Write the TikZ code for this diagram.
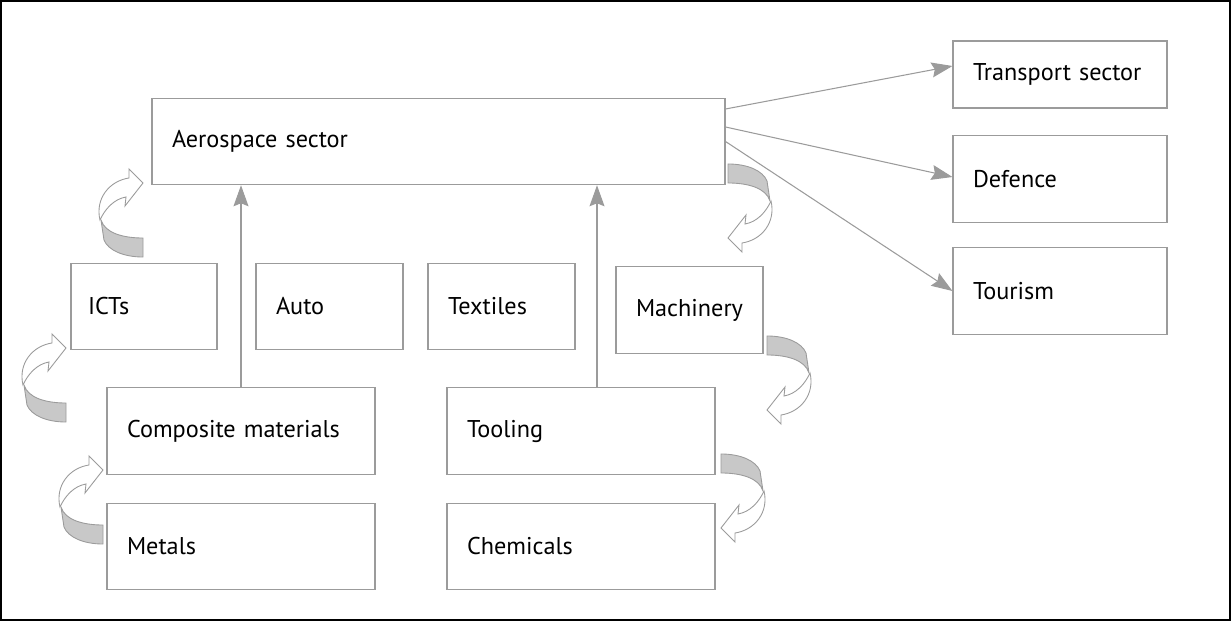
\documentclass[tikz,border=0pt]{standalone}
\usepackage{fontspec}
\setmainfont{PT Sans}
\usetikzlibrary{arrows.meta}

\definecolor{linegray}{RGB}{155,155,155}
\definecolor{bandgray}{RGB}{200,200,200}

\tikzset{
  curl/.pic={
    \begin{scope}[x=0.02cm, y=0.02cm]
      \filldraw[fill=bandgray, draw=linegray, line width=0.5pt]
        (-42,-37) .. controls (-38,-50) and (-20,-55) .. (0,-55) -- (0,-74)
        .. controls (-20,-74) and (-35,-67) .. (-39,-57) -- cycle;
      \filldraw[fill=white, draw=linegray, line width=0.5pt]
        (0,0) -- (-14,14) -- (-14,5) .. controls (-34,2) and (-48,-16) .. (-43,-37)
        .. controls (-38,-26) and (-29,-16) .. (-17,-14) -- (-18,-23) -- cycle;
    \end{scope}
  }
}

\begin{document}
\begin{tikzpicture}
  \tikzstyle{box}=[draw=linegray, line width=0.6pt, inner xsep=0.4cm, align=left, minimum height=1.73cm, font=\fontsize{13.8}{16}\selectfont]
  \tikzstyle{conn}=[draw=linegray, line width=0.6pt, -{Stealth[length=0.42cm, width=0.3cm, inset=0.06cm]}]

  \useasboundingbox (0,0) rectangle (24.62,-12.42);
  \draw[black, line width=0.04cm] (0.02,-0.02) rectangle (24.6,-12.4);

  % sectors
  \node[box, text width=10.66cm] (aero) at (8.77,-2.83) {Aerospace sector};
  \node[box, text width=3.48cm, minimum height=1.34cm] (transport) at (21.2,-1.49) {Transport sector};
  \node[box, text width=3.48cm] (defence) at (21.2,-3.58) {Defence};
  \node[box, text width=3.48cm] (tourism) at (21.2,-5.82) {Tourism};

  \node[box, text width=2.24cm, inner xsep=0.34cm] (icts) at (2.88,-6.13) {ICTs};
  \node[box, text width=2.14cm] (auto) at (6.59,-6.13) {Auto};
  \node[box, text width=2.14cm] (textiles) at (10.03,-6.13) {Textiles};
  \node[box, text width=2.14cm] (machinery) at (13.79,-6.20) {Machinery};

  \node[box, text width=4.56cm] (comp) at (4.82,-8.62) {Composite materials};
  \node[box, text width=4.56cm] (tooling) at (11.62,-8.62) {Tooling};
  \node[box, text width=4.56cm] (metals) at (4.82,-10.93) {Metals};
  \node[box, text width=4.56cm] (chem) at (11.62,-10.93) {Chemicals};

  % arrows
  \draw[conn] (comp.north) -- (comp.north |- aero.south);
  \draw[conn] ([xshift=0.32cm]tooling.north) -- ([xshift=0.32cm]tooling.north |- aero.south);
  \draw[conn] ([yshift=0.65cm]aero.east) -- ([yshift=0.17cm]transport.west);
  \draw[conn] ([yshift=0.29cm]aero.east) -- ([yshift=0.04cm]defence.west);
  \draw[conn] (aero.east) -- (tourism.west);

  % curled arrows
  \pic at (2.86,-3.66) {curl};
  \pic at (1.32,-6.96) {curl};
  \pic at (2.06,-9.40) {curl};
  \pic[rotate=180] at (14.56,-4.76) {curl};
  \pic[rotate=180] at (15.34,-8.20) {curl};
  \pic[rotate=180] at (14.42,-10.56) {curl};
\end{tikzpicture}
\end{document}
